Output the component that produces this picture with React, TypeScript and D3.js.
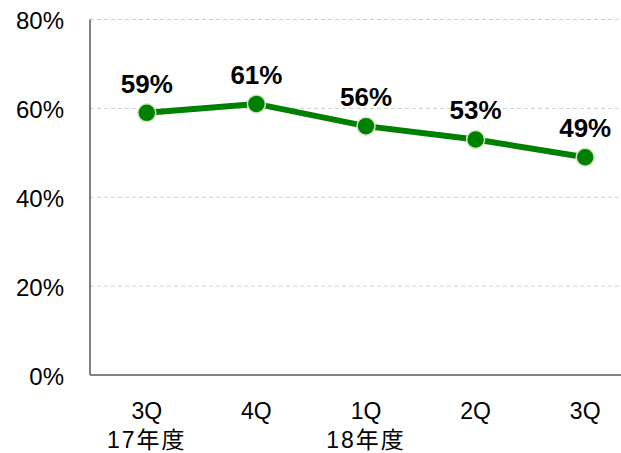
import React, { useRef, useEffect } from 'react';
import * as d3 from 'd3';

const categories = ['3Q', '4Q', '1Q', '2Q', '3Q'];
const yearLabels = ['17年度', '', '18年度', '', ''];
const values = [59, 61, 56, 53, 49];
const yTicks = [0, 20, 40, 60, 80];

const App = () => {
    const svgRef = useRef<SVGSVGElement | null>(null);

    useEffect(() => {
        const svg = d3.select(svgRef.current);
        svg.selectAll('*').remove();

        const font = 'Arial, "Liberation Sans", "Noto Sans CJK JP", sans-serif';
        const left = 90;
        const top = 19.5;
        const bottom = 375;

        const x = d3.scalePoint<number>()
            .domain(d3.range(values.length))
            .range([92, 640])
            .padding(0.5);

        const y = d3.scaleLinear()
            .domain([0, 80])
            .range([bottom, top]);

        // Gridlines
        svg.append('g')
            .selectAll('line')
            .data(yTicks.filter(t => t > 0))
            .enter()
            .append('line')
            .attr('x1', left)
            .attr('x2', 621)
            .attr('y1', d => y(d))
            .attr('y2', d => y(d))
            .attr('stroke', '#d0d0d0')
            .attr('stroke-width', 1)
            .attr('stroke-dasharray', '4,3');

        // Y tick labels
        svg.append('g')
            .selectAll('text')
            .data(yTicks)
            .enter()
            .append('text')
            .attr('x', 64)
            .attr('y', d => y(d))
            .attr('dy', '0.4em')
            .attr('text-anchor', 'end')
            .attr('font-family', font)
            .attr('font-size', 24)
            .attr('fill', '#000')
            .text(d => `${d}%`);

        // Axes lines
        svg.append('line')
            .attr('x1', left).attr('x2', left)
            .attr('y1', top).attr('y2', bottom)
            .attr('stroke', '#595959').attr('stroke-width', 1.5);
        svg.append('line')
            .attr('x1', left).attr('x2', 621)
            .attr('y1', bottom).attr('y2', bottom)
            .attr('stroke', '#595959').attr('stroke-width', 1.5);

        // X labels
        const xl = svg.append('g')
            .selectAll('g')
            .data(categories)
            .enter()
            .append('g')
            .attr('transform', (d, i) => `translate(${x(i)},0)`);
        xl.append('text')
            .attr('y', 419)
            .attr('text-anchor', 'middle')
            .attr('font-family', font)
            .attr('font-size', 23)
            .text(d => d);
        xl.append('text')
            .attr('y', 448)
            .attr('text-anchor', 'middle')
            .attr('font-family', font)
            .attr('font-size', 23)
            .attr('letter-spacing', 2)
            .text((d, i) => yearLabels[i]);

        // Line
        const line = d3.line<number>()
            .x((d, i) => x(i) as number)
            .y(d => y(d));
        svg.append('path')
            .datum(values)
            .attr('d', line)
            .attr('fill', 'none')
            .attr('stroke', '#008000')
            .attr('stroke-width', 6);

        // Markers
        svg.append('g')
            .selectAll('circle')
            .data(values)
            .enter()
            .append('circle')
            .attr('cx', (d, i) => x(i) as number)
            .attr('cy', d => y(d))
            .attr('r', 9)
            .attr('fill', '#008000')
            .attr('stroke', '#d6e8c4')
            .attr('stroke-width', 1.5);

        // Data labels
        svg.append('g')
            .selectAll('text')
            .data(values)
            .enter()
            .append('text')
            .attr('x', (d, i) => x(i) as number)
            .attr('y', d => y(d) - 20)
            .attr('text-anchor', 'middle')
            .attr('font-family', font)
            .attr('font-size', 26)
            .attr('font-weight', 'bold')
            .text(d => `${d}%`);
    }, []);

    return (
        <svg
            ref={svgRef}
            width={621}
            height={453}
            style={{ position: 'absolute', left: 0, top: 0, background: '#fff' }}
        />
    );
};

export default App;
